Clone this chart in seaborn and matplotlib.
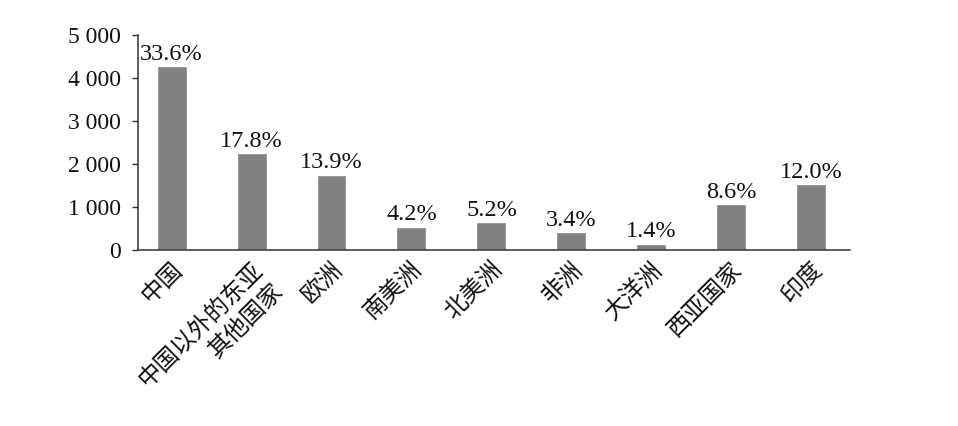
import matplotlib
matplotlib.use("Agg")
import matplotlib.pyplot as plt
import seaborn as sns
import pandas as pd

regions = ["中国", "中国以外的东亚\n其他国家", "欧洲", "南美洲", "北美洲",
           "非洲", "大洋洲", "西亚国家", "印度"]
values = [4280, 2250, 1750, 540, 650, 420, 150, 1070, 1535]
shares = ["33.6%", "17.8%", "13.9%", "4.2%", "5.2%", "3.4%", "1.4%", "8.6%", "12.0%"]
y_ticks = [0, 1000, 2000, 3000, 4000, 5000]
y_tick_labels = ["0", "1 000", "2 000", "3 000", "4 000", "5 000"]

sns.set_style("white")
plt.rcParams['font.family'] = ['Liberation Serif', 'Noto Sans CJK SC']

df = pd.DataFrame({"region": regions, "value": values})

fig = plt.figure(figsize=(9.58, 4.26), dpi=100)
ax = fig.add_axes([0.144, 0.413, 0.743, 0.505])

sns.barplot(data=df, x="region", y="value", color="#808183", saturation=1,
            width=0.375, ax=ax)

ax.bar_label(ax.containers[0], labels=shares, padding=1, fontsize=17.5, color="#111111")

ax.set_xlim(-0.42, 8.48)
ax.set_ylim(0, 5000)
ax.set_yticks(y_ticks)
ax.set_yticklabels(y_tick_labels, fontsize=17, color="#111111")
ax.set_xlabel("")
ax.set_ylabel("")

ax.set_xticks(range(len(regions)))
ax.set_xticklabels(regions, rotation=45, ha="right", rotation_mode="anchor",
                   fontsize=17, color="#111111", linespacing=1.45)

ax.tick_params(axis="x", length=0, pad=6)
ax.tick_params(axis="y", length=4, width=1, direction="out", color="#333333", pad=8, left=True)

sns.despine(ax=ax)
for side in ["left", "bottom"]:
    ax.spines[side].set_color("#333333")
    ax.spines[side].set_linewidth(1.1)

fig.savefig("out.png", dpi=100)
